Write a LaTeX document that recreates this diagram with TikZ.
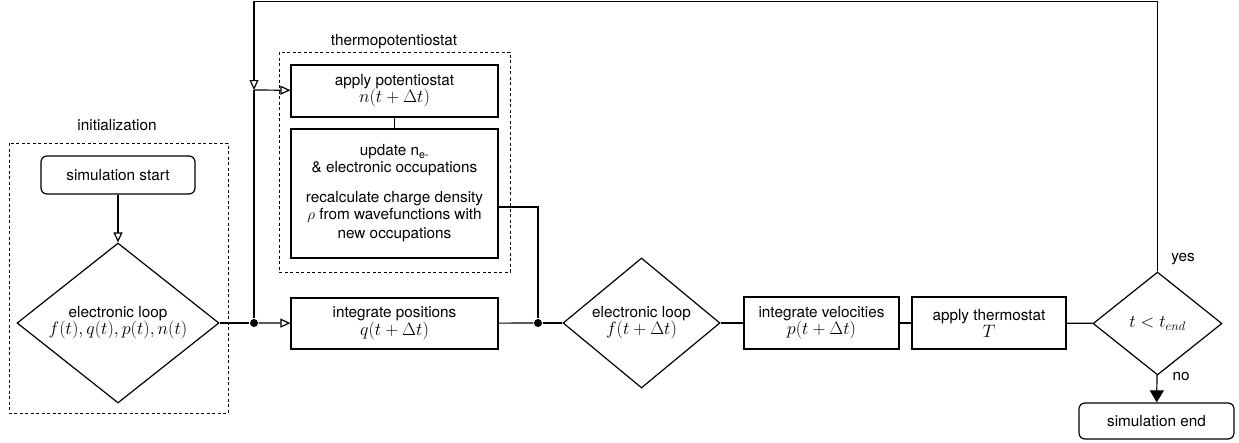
\RequirePackage{fix-cm}
\documentclass[tikz,border=0pt]{standalone}
\usepackage{fontspec}
\setmainfont{TeX Gyre Heros}
\usetikzlibrary{arrows.meta, shapes.geometric}

\newcommand{\mth}[1]{{\fontsize{18}{18}\selectfont$#1$}}

\begin{document}
\begin{tikzpicture}[x=1pt, y=-1pt, line width=1.2pt,
    font=\fontsize{15.3}{17}\selectfont,
    box/.style={draw, align=center, inner sep=2pt},
    term/.style={box, rounded corners=6pt},
    decide/.style={draw, diamond, align=center, inner sep=0pt},
    group/.style={draw, line width=1pt, dash pattern=on 3pt off 2.5pt},
    dot/.style={circle, fill, inner sep=0pt, minimum size=8pt},
    open tip/.style={-{Triangle[open, length=10pt, width=9pt]}},
    full tip/.style={-{Triangle[length=12pt, width=14pt]}}]
    \useasboundingbox (0,0) rectangle (1239,442);

    % Groups
    \draw[group] (9,143) rectangle (228,413);
    \node (initlbl) at (117,125) {initialization};
    \draw[group] (279,52) rectangle (510,272);
    \node (tpslbl) at (394,42) {thermopotentiostat};

    % Steps
    \node[term, minimum width=154, minimum height=38] (start) at (118,175) {simulation start};
    \node[decide, aspect=1.26, minimum width=202, minimum height=160] (loop0) at (118,323)
        {electronic loop\\\mth{f(t), q(t), p(t), n(t)}};
    \node[box, minimum width=207, minimum height=52] (pot) at (394.5,91)
        {apply potentiostat\\\mth{n(t+\Delta t)}};
    \node[box, minimum width=207, minimum height=129] (upd) at (394.5,193.5)
        {update n\textsubscript{e-}\\ \& electronic occupations\\[13pt]
         recalculate charge density\\ $\rho$ from wavefunctions with\\[2pt] new occupations};
    \node[box, minimum width=207, minimum height=51] (pos) at (394.5,323.5)
        {integrate positions\\[1pt]\mth{q(t+\Delta t)}};
    \node[decide, aspect=1.21, minimum width=157, minimum height=130] (loop1) at (641.5,323)
        {electronic loop\\\mth{f(t+\Delta t)}};
    \node[box, minimum width=155, minimum height=52] (vel) at (821.5,323)
        {integrate velocities\\\mth{p(t+\Delta t)}};
    \node[box, minimum width=154, minimum height=52] (thermo) at (989,323)
        {apply thermostat\\\mth{T}};
    \node[decide, aspect=1.25, minimum width=129, minimum height=103] (check) at (1157.5,323.5)
        {\mth{t<t_{end}}};
    \node[term, minimum width=155, minimum height=36] (stop) at (1156.5,421) {simulation end};

    % Junctions
    \node[dot] (j0) at (254,323) {};
    \node[dot] (j1) at (538,323) {};
    \coordinate (back) at (254,90);
    \coordinate (corner) at (254,1.5);

    % Connectors
    \draw[open tip] (start) -- (loop0);
    \draw (loop0) -- (j0);
    \draw[open tip] (j0) -- (pos);
    \draw (back) -- (j0);
    \draw[open tip] (back) -- (pot);
    \draw (pot) -- (upd);
    \draw ([yshift=-13.5pt]upd.east) -| (j1);
    \draw (pos) -- (j1);
    \draw (j1) -- (loop1);
    \draw (loop1) -- (vel);
    \draw (vel) -- (thermo);
    \draw (thermo) -- (check);
    \draw[full tip] (check) -- (stop);
    \draw[open tip] (check) |- (corner) -- (back);

    % Branch labels
    \node (yes) at (1183,259) {yes};
    \node (no) at (1181,376) {no};
\end{tikzpicture}
\end{document}
